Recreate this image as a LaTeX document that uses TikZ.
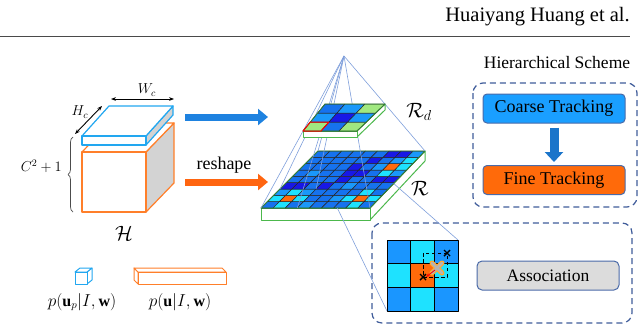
\documentclass[tikz,border=0pt]{standalone}
\usepackage{fontspec}
\setmainfont{Liberation Serif}
\newfontfamily\tmr{Liberation Serif}
\usetikzlibrary{arrows.meta,calc,decorations.pathreplacing}
\definecolor{hdrc}{HTML}{4A4A4A}
\definecolor{slabblue}{HTML}{22A7F0}
\definecolor{cubeor}{HTML}{FF7F2A}
\definecolor{sidegray}{HTML}{D3D3D3}
\definecolor{arrblue}{HTML}{1E82E0}
\definecolor{arror}{HTML}{FF6510}
\definecolor{pyr}{HTML}{7F9FDB}
\definecolor{slabgreen}{HTML}{4CB84C}
\definecolor{cb}{HTML}{1672EE}
\definecolor{cl}{HTML}{1A98FA}
\definecolor{clt}{HTML}{1A96FF}
\definecolor{cd}{HTML}{1818E6}
\definecolor{cc}{HTML}{1EE2FF}
\definecolor{co}{HTML}{FF6A0A}
\definecolor{cg}{HTML}{A0E880}
\definecolor{dashb}{HTML}{3F5C9A}
\definecolor{coarsec}{HTML}{1A9FFF}
\definecolor{finec}{HTML}{FF6A0A}
\definecolor{boxedge}{HTML}{4A6AA8}
\definecolor{assocfill}{HTML}{DCDCDC}
\definecolor{glow}{HTML}{FFA830}
\definecolor{xgray}{HTML}{B4B4B4}
\newcommand\setquad[8]{\gdef\qAx{#1}\gdef\qAy{#2}\gdef\qBx{#3}\gdef\qBy{#4}\gdef\qCx{#5}\gdef\qCy{#6}\gdef\qDx{#7}\gdef\qDy{#8}}
\newcommand\qpt[3]{%
 \pgfmathsetmacro\qtmpx{(1-(#3))*((1-(#2))*\qAx+(#2)*\qBx)+(#3)*((1-(#2))*\qDx+(#2)*\qCx)}%
 \pgfmathsetmacro\qtmpy{(1-(#3))*((1-(#2))*\qAy+(#2)*\qBy)+(#3)*((1-(#2))*\qDy+(#2)*\qCy)}%
 \coordinate (#1) at (\qtmpx,\qtmpy);}
\newcommand\qgrid[2]{% #1 = n, #2 = rows list
 \foreach \r/\lst in {#2}{%
  \foreach \c [count=\i from 0] in \lst {%
   \pgfmathsetmacro\ua{\i/#1}\pgfmathsetmacro\ub{(\i+1)/#1}%
   \pgfmathsetmacro\va{\r/#1}\pgfmathsetmacro\vb{(\r+1)/#1}%
   \qpt{g1}{\ua}{\va}\qpt{g2}{\ub}{\va}\qpt{g3}{\ub}{\vb}\qpt{g4}{\ua}{\vb}%
   \filldraw[fill=\c, draw=black!85, line width=0.5pt] (g1)--(g2)--(g3)--(g4)--cycle;
  }}}
\tikzset{
 cubeline/.style={line width=1.2pt, line join=round},
 pyrline/.style={pyr, line width=0.6pt},
 bigarrow/.style={line width=7pt, -{Triangle[length=10pt,width=16pt]}},
 dashbox/.style={draw=dashb, line width=1.2pt, dash pattern=on 6pt off 4pt, rounded corners=10pt},
 trackbox/.style={draw=boxedge, line width=1pt, rounded corners=4pt, minimum width=142pt, minimum height=29pt, inner sep=0pt, font=\tmr\fontsize{18}{20}\selectfont},
 mathlbl/.style={inner sep=0pt},
 xmark/.style={line width=1.4pt, black}
}
\begin{document}
\begin{tikzpicture}[x=1pt,y=-1pt,line join=round]
\useasboundingbox (0,0) rectangle (640,325);

% header
\node[anchor=base east, font=\tmr\fontsize{20.5}{24}\selectfont, inner sep=0pt] (hdr) at (630,21) {Huaiyang Huang et al.};
\coordinate (ruleL) at (0,36);
\coordinate (ruleR) at (630,36);
\draw[line width=1pt, hdrc] (ruleL) -- (ruleR);

% ---------- left cube H ----------
\filldraw[fill=sidegray, draw=cubeor, cubeline] (146,152)--(174,123)--(174,183)--(146,212)--cycle;
\filldraw[fill=white, draw=cubeor, cubeline] (82,152)--(110,123)--(174,123)--(146,152)--cycle;
\filldraw[fill=white, draw=cubeor, cubeline] (82,152) rectangle (146,212);
% blue slab
\filldraw[fill=sidegray, draw=slabblue, cubeline] (146,136)--(173,106)--(173,115)--(146,145)--cycle;
\filldraw[fill=white, draw=slabblue, cubeline] (82,136)--(109,106)--(173,106)--(146,136)--cycle;
\filldraw[fill=white, draw=slabblue, cubeline] (82,136) rectangle (146,145);

% dimension arrows
\coordinate (wcL) at (111,99); \coordinate (wcR) at (174,99);
\draw[line width=0.9pt, {Stealth[length=5pt]}-{Stealth[length=5pt]}] (wcL) -- (wcR);
\node[mathlbl, font=\fontsize{14}{16}\selectfont] (wc) at (147,90) {$W_c$};
\coordinate (hcT) at (102,106); \coordinate (hcB) at (75,134);
\draw[line width=0.9pt, {Stealth[length=5pt]}-{Stealth[length=5pt]}] (hcT) -- (hcB);
\node[mathlbl, font=\fontsize{14}{16}\selectfont] (hc) at (80,112) {$H_c$};
% brace
\coordinate (brB) at (73,212); \coordinate (brT) at (73,137);
\draw[black!70, line width=0.7pt, decorate, decoration={brace, amplitude=5pt}] (brB) -- (brT);
\node[mathlbl, anchor=east, font=\fontsize{14}{16}\selectfont] (cc1) at (62,166) {$C^2+1$};
\node[mathlbl, font=\fontsize{22}{24}\selectfont] (Hlbl) at (124,233) {$\mathcal{H}$};

% legend
\filldraw[fill=white, draw=slabblue, line width=1pt] (87,272)--(92,268)--(92,280)--(87,284)--cycle;
\filldraw[fill=white, draw=slabblue, line width=1pt] (75,272)--(80,268)--(92,268)--(87,272)--cycle;
\filldraw[fill=white, draw=slabblue, line width=1pt] (75,272) rectangle (87,284);
\node[mathlbl, font=\fontsize{16}{18}\selectfont] (lg1) at (82,302) {$p(\mathbf{u}_p|I,\mathbf{w})$};
\filldraw[fill=white, draw=cubeor, line width=1pt] (138,272)--(134,268)--(134,280)--(138,284)--cycle;
\filldraw[fill=white, draw=cubeor, line width=1pt] (134,268)--(222,268)--(226,272)--(138,272)--cycle;
\filldraw[fill=white, draw=cubeor, line width=1pt] (138,272) rectangle (226,284);
\node[mathlbl, font=\fontsize{16}{18}\selectfont] (lg2) at (180,302) {$p(\mathbf{u}|I,\mathbf{w})$};

% big arrows
\coordinate (ab1) at (185,117); \coordinate (ab2) at (268,117);
\draw[arrblue, bigarrow] (ab1) -- (ab2);
\coordinate (ao1) at (185,182); \coordinate (ao2) at (268,182);
\draw[arror, bigarrow] (ao1) -- (ao2);
\node[font=\tmr\fontsize{18}{20}\selectfont, inner sep=0pt] (reshape) at (224,165) {reshape};

% ---------- big grid R ----------
\coordinate (apex) at (344,56);
\filldraw[fill=white, draw=slabgreen, line width=1pt] (370,208)--(425,151)--(425,161)--(370,220)--cycle;
\filldraw[fill=white, draw=slabgreen, line width=1pt] (261,208) rectangle (370,220);
\setquad{261}{208}{370}{208}{425}{151}{318}{151}
\qgrid{9}{0/{cb,cc,cb,cl,cb,cb,cb,cc,cb},
 1/{cc,co,cc,cb,cb,cl,cc,co,cc},
 2/{cl,cc,cl,cb,cb,cb,cb,cc,cb},
 3/{cd,cd,cb,cd,cb,cl,cb,cb,cb},
 4/{cb,cb,cb,cb,cd,cb,cb,cd,cd},
 5/{cb,cl,cb,cb,cd,cd,cb,cc,cl},
 6/{cb,cb,cb,cb,cd,cb,cl,co,cc},
 7/{cb,cb,cb,cb,cb,cd,cb,cl,cc},
 8/{cb,cb,cb,cb,cb,cb,cd,cd,cl}}
\draw[slabgreen!70!black, line width=0.9pt] (261,208)--(370,208)--(425,151)--(318,151)--cycle;
\coordinate (RA) at (261,208); \coordinate (RB) at (370,208);
\coordinate (RC) at (425,151); \coordinate (RD) at (318,151);
\qpt{s1}{1/3}{0}\qpt{s2}{0}{1/3}\qpt{s3}{1/3}{1/3}
\qpt{z1}{0.7}{0}\qpt{z2}{1}{0.43}
\node[mathlbl, font=\fontsize{20}{22}\selectfont] (Rlbl) at (420,188) {$\mathcal{R}$};

% pyramid lines
\foreach \t in {RA,RB,RC,RD,s1,s2,s3} {\draw[pyrline] (apex) -- (\t);}

% ---------- small grid R_d ----------
\filldraw[fill=white, draw=slabgreen, line width=1pt] (357,131)--(385,104)--(385,110)--(357,137)--cycle;
\filldraw[fill=white, draw=slabgreen, line width=1pt] (303,131) rectangle (357,137);
\setquad{303}{131}{357}{131}{385}{104}{325}{104}
\qgrid{3}{0/{cg,cb,cg},1/{cl,cd,cl},2/{cb,cl,cg}}
\draw[slabgreen!70!black, line width=0.8pt] (303,131)--(357,131)--(385,104)--(325,104)--cycle;
\qpt{r1}{0}{0}\qpt{r2}{1/3}{0}\qpt{r3}{1/3}{1/3}\qpt{r4}{0}{1/3}
\draw[red, line width=1pt] (r1)--(r2)--(r3)--(r4)--cycle;
\node[mathlbl, font=\fontsize{20}{22}\selectfont] (Rdlbl) at (419,112) {$\mathcal{R}_d$};

% ---------- association box ----------
\draw[dashbox] (372,223) rectangle (632,323);
\coordinate (gTR) at (458,240); \coordinate (gBL) at (387,311);
\draw[pyrline] (z1) -- (gBL);
\draw[pyrline] (z2) -- (gTR);
\foreach \r/\lst in {0/{clt,cc,clt},1/{cc,co,cc},2/{clt,cc,clt}} {
 \foreach \c [count=\i from 0] in \lst {
  \filldraw[fill=\c, draw=black, line width=0.9pt] ({387+\i*23.667},{240+\r*23.667}) rectangle +(23.667,23.667);
 }}
\draw[black, line width=0.9pt, dash pattern=on 3.5pt off 2.5pt] (423,253) rectangle (447,277);
\draw[xmark] (444,250)--(450,256) (444,256)--(450,250);
\draw[xmark] (420,274)--(426,280) (420,280)--(426,274);
\draw[glow, line width=5pt, line cap=round] (432,263)--(442,273) (432,273)--(442,263);
\draw[xgray, line width=2.6pt, line cap=round] (432,263)--(442,273) (432,273)--(442,263);
\coordinate (ra1) at (435,270); \coordinate (ra2) at (426,277);
\draw[red, line width=0.9pt, -{Stealth[length=4pt]}] (ra1) -- (ra2);
\node[draw=boxedge, fill=assocfill, line width=1pt, rounded corners=5pt, minimum width=142pt, minimum height=29pt, inner sep=0pt, font=\tmr\fontsize{17.5}{20}\selectfont] (assoc) at (548,275.5) {Association};

% ---------- hierarchical scheme ----------
\node[font=\tmr\fontsize{17.5}{20}\selectfont, inner sep=0pt] (htitle) at (557,63) {Hierarchical Scheme};
\draw[dashbox] (473,83) rectangle (637,207);
\node[trackbox, fill=coarsec] (coarse) at (554,108.5) {Coarse Tracking};
\node[trackbox, fill=finec] (fine) at (554,180) {Fine Tracking};
\draw[arrblue!90!black, line width=9pt, -{Triangle[length=10pt,width=18pt]}, shorten <=4pt, shorten >=3pt] (coarse) -- (fine);
\end{tikzpicture}
\end{document}
